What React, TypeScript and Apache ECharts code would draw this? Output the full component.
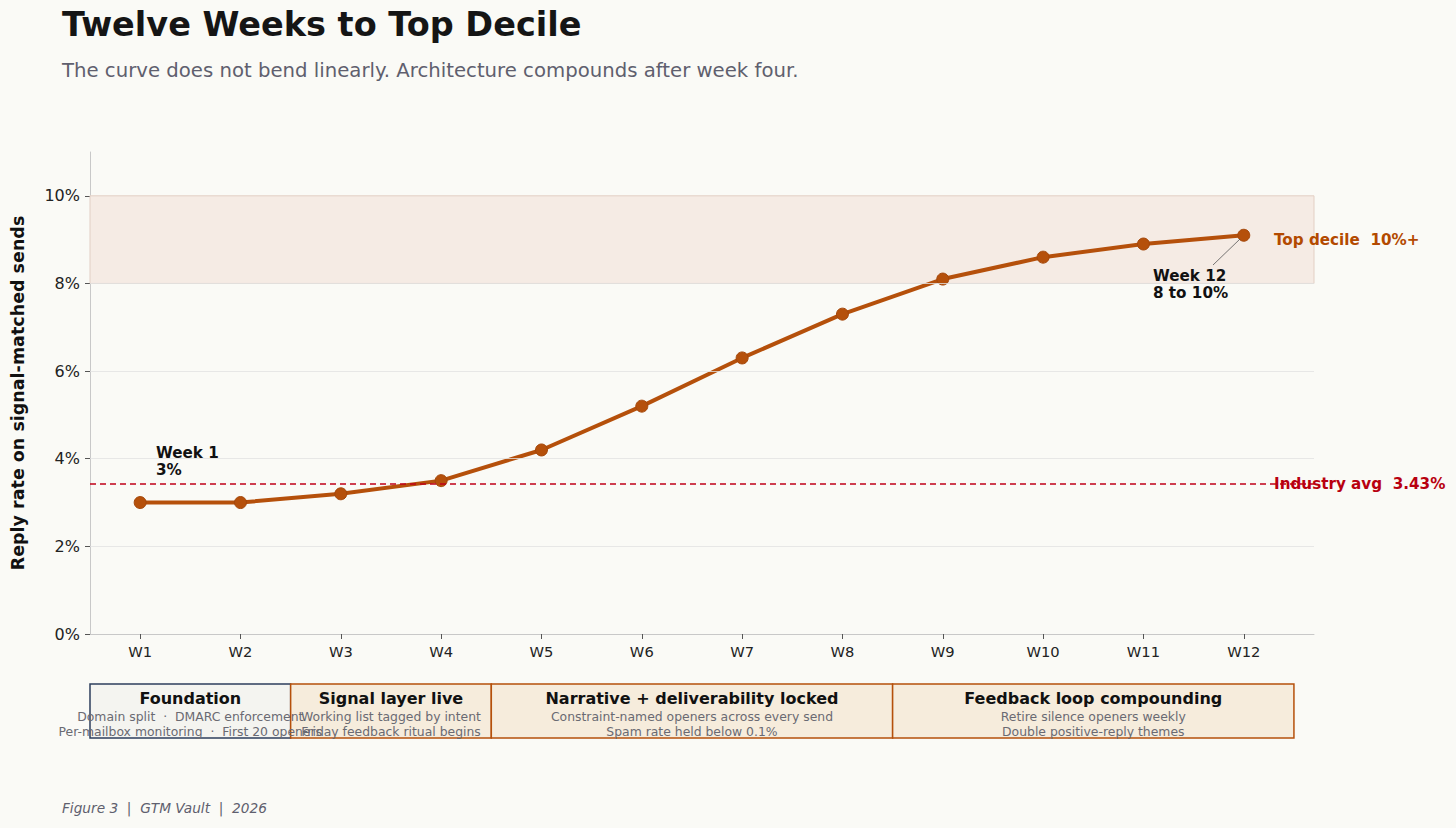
import React, { useEffect, useRef } from "react";
import * as echarts from "echarts";

const weeks = ["W1", "W2", "W3", "W4", "W5", "W6", "W7", "W8", "W9", "W10", "W11", "W12"];
const replyRate = [3.0, 3.0, 3.2, 3.5, 4.2, 5.2, 6.3, 7.3, 8.1, 8.6, 8.9, 9.1];
const yTicks = [0, 2, 4, 6, 8, 10];
const gridLines = [2, 4, 6, 8];
const industryAvg = 3.43;
const topDecileBand = [8, 10];

const phaseNames = ["Foundation", "Signal layer live", "Narrative + deliverability locked", "Feedback loop compounding"];
const phaseStart = [-0.5, 1.5, 3.5, 7.5];
const phaseEnd = [1.5, 3.5, 7.5, 11.5];
const phaseLine1 = [
  "Domain split  ·  DMARC enforcement",
  "Working list tagged by intent",
  "Constraint-named openers across every send",
  "Retire silence openers weekly",
];
const phaseLine2 = [
  "Per-mailbox monitoring  ·  First 20 openers",
  "Friday feedback ritual begins",
  "Spam rate held below 0.1%",
  "Double positive-reply themes",
];

const FONT = "DejaVu Sans";
const ORANGE = "#b5500b";
const RED = "#c00018";
const BG = "#fafaf6";

export default function App() {
  const ref = useRef<HTMLDivElement>(null);
  useEffect(() => {
    if (!ref.current) return;
    const chart = echarts.init(ref.current, undefined, { renderer: "svg" });
    const phaseStyles = [
      { fill: "#f4f4f0", stroke: "#2c3e5c" },
      { fill: "#f6ecdc", stroke: ORANGE },
      { fill: "#f6ecdc", stroke: ORANGE },
      { fill: "#f6ecdc", stroke: ORANGE },
    ];
    const option: any = {
      animation: false,
      backgroundColor: BG,
      textStyle: { fontFamily: FONT },
      grid: [
        { left: 90, right: 142, top: 152, bottom: 194 },
        { left: 90, right: 142, top: 684, height: 54 },
      ],
      xAxis: [
        {
          type: "value",
          gridIndex: 0,
          min: -0.5,
          max: 11.7,
          splitLine: { show: false },
          axisLine: { onZero: false, lineStyle: { color: "#c8c8c8", width: 1 } },
          axisTick: { show: true, customValues: weeks.map((_, i) => i), length: 5, lineStyle: { color: "#555" } },
          axisLabel: {
            customValues: weeks.map((_, i) => i),
            formatter: (v: number) => weeks[Math.round(v)] ?? "",
            fontSize: 14.7,
            color: "#222",
            fontFamily: FONT,
            margin: 10,
          },
        },
        {
          type: "value",
          gridIndex: 1,
          min: -0.5,
          max: 11.7,
          show: false,
        },
      ],
      yAxis: [
        {
          type: "value",
          gridIndex: 0,
          min: 0,
          max: 11,
          splitLine: { show: false },
          axisLine: { show: true, onZero: false, lineStyle: { color: "#c8c8c8", width: 1 } },
          axisTick: { show: true, customValues: yTicks, length: 5, lineStyle: { color: "#555" } },
          axisLabel: {
            customValues: yTicks,
            formatter: (v: number) => `${v}%`,
            fontSize: 16,
            color: "#222",
            fontFamily: FONT,
            margin: 10,
          },
          name: "Reply rate on signal-matched sends",
          nameLocation: "middle",
          nameGap: 63,
          nameTextStyle: { fontSize: 17.5, fontWeight: "bold", color: "#111", fontFamily: FONT },
        },
        { type: "value", gridIndex: 1, min: 0, max: 1, show: false },
      ],
      series: [
        {
          type: "line",
          xAxisIndex: 0,
          yAxisIndex: 0,
          data: [],
          z: 1,
          silent: true,
          markArea: {
            silent: true,
            itemStyle: { color: "#f5ebe4", borderColor: "#e2cfc4", borderWidth: 1 },
            data: [[{ yAxis: topDecileBand[0] }, { yAxis: topDecileBand[1] }]],
          },
          markLine: {
            silent: true,
            symbol: ["none", "none"],
            label: { show: false },
            data: [
              ...gridLines.map((g) => ({ yAxis: g, lineStyle: { color: "#e2e2e2", width: 0.8, type: "solid" } })),
              { yAxis: industryAvg, lineStyle: { color: RED, width: 1.6, type: [6, 4] } },
            ],
          },
        },
        {
          type: "line",
          xAxisIndex: 0,
          yAxisIndex: 0,
          z: 3,
          data: replyRate.map((v, i) => [i, v]),
          lineStyle: { color: ORANGE, width: 4 },
          itemStyle: { color: ORANGE, borderColor: "#a4470a", borderWidth: 1 },
          symbol: "circle",
          symbolSize: 12,
          showSymbol: true,
        },
        {
          type: "custom",
          xAxisIndex: 1,
          yAxisIndex: 1,
          clip: false,
          silent: true,
          data: phaseNames.map((_, i) => [phaseStart[i], phaseEnd[i], i]),
          encode: { x: [0, 1] },
          renderItem: (params: any, api: any) => {
            const i = api.value(2);
            const p0 = api.coord([api.value(0), 1]);
            const p1 = api.coord([api.value(1), 0]);
            const cx = (p0[0] + p1[0]) / 2;
            const st = phaseStyles[i];
            return {
              type: "group",
              children: [
                {
                  type: "rect",
                  z2: 0,
                  shape: { x: p0[0], y: p0[1], width: p1[0] - p0[0], height: p1[1] - p0[1] },
                  style: { fill: st.fill, stroke: st.stroke, lineWidth: 1.5 },
                },
                {
                  type: "text",
                  z2: 10,
                  style: {
                    text: phaseNames[i],
                    x: cx,
                    y: p0[1] + 14,
                    align: "center",
                    verticalAlign: "middle",
                    fill: "#111",
                    font: `bold 16px "${FONT}"`,
                  },
                },
                {
                  type: "text",
                  z2: 10,
                  style: {
                    text: phaseLine1[i],
                    x: cx,
                    y: p0[1] + 32,
                    align: "center",
                    verticalAlign: "middle",
                    fill: "#6a6a72",
                    font: `12.4px "${FONT}"`,
                  },
                },
                {
                  type: "text",
                  z2: 10,
                  style: {
                    text: phaseLine2[i],
                    x: cx,
                    y: p0[1] + 47,
                    align: "center",
                    verticalAlign: "middle",
                    fill: "#6a6a72",
                    font: `12.4px "${FONT}"`,
                  },
                },
              ],
            };
          },
        },
      ],
      graphic: [
        {
          type: "text",
          left: 62,
          top: 7,
          z: 100,
          style: { text: "Twelve Weeks to Top Decile", fill: "#151515", font: `bold 33.5px "${FONT}"` },
        },
        {
          type: "text",
          left: 62,
          top: 60,
          z: 100,
          style: {
            text: "The curve does not bend linearly. Architecture compounds after week four.",
            fill: "#5f5f6e",
            font: `19.7px "${FONT}"`,
          },
        },
        {
          type: "text",
          x: 156,
          y: 444,
          z: 100,
          style: { text: "Week 1\n3%", fill: "#111", font: `bold 15.2px "${FONT}"`, lineHeight: 17 },
        },
        {
          type: "text",
          x: 1153,
          y: 267,
          z: 100,
          style: { text: "Week 12\n8 to 10%", fill: "#111", font: `bold 15.2px "${FONT}"`, lineHeight: 17 },
        },
        {
          type: "line",
          z: 100,
          shape: { x1: 1213, y1: 265, x2: 1240, y2: 239 },
          style: { stroke: "#555", lineWidth: 0.8 },
        },
        {
          type: "text",
          x: 1274,
          y: 240,
          z: 100,
          style: { text: "Top decile  10%+", fill: "#b34a00", font: `bold 15.2px "${FONT}"`, verticalAlign: "middle" },
        },
        {
          type: "text",
          x: 1274,
          y: 484,
          z: 100,
          style: { text: "Industry avg  3.43%", fill: "#b8000f", font: `bold 15.2px "${FONT}"`, verticalAlign: "middle" },
        },
        {
          type: "text",
          left: 62,
          top: 801,
          z: 100,
          style: { text: "Figure 3  |  GTM Vault  |  2026", fill: "#5f5f6e", font: `italic 13.7px "${FONT}"` },
        },
      ],
    };
    chart.setOption(option);
    return () => chart.dispose();
  }, []);
  return (
    <div
      ref={ref}
      style={{ position: "fixed", left: 0, top: 0, width: 1456, height: 828, background: BG }}
    />
  );
}
